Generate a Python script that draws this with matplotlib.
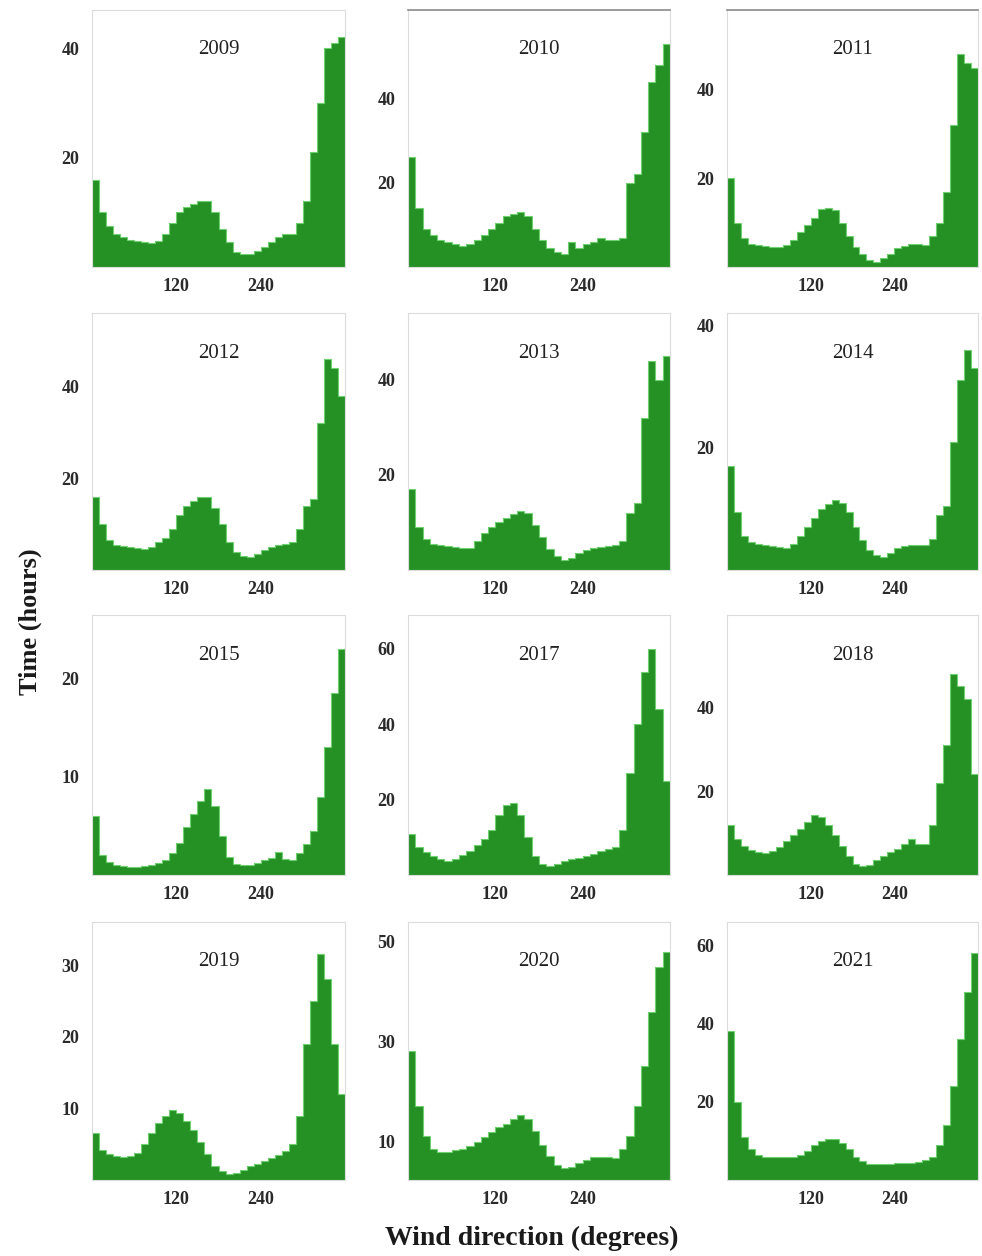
import matplotlib
matplotlib.use('Agg')
import matplotlib.pyplot as plt
import numpy as np

# wind direction histograms, 10 degree bins (hours per bin)
bin_edges = np.arange(0, 361, 10)
bin_centers = bin_edges[:-1] + 5

years = ['2009', '2010', '2011', '2012', '2013', '2014',
         '2015', '2017', '2018', '2019', '2020', '2021']

h2009 = [16, 10, 7.5, 6, 5.5, 5, 4.8, 4.5, 4.3, 4.8, 6, 8, 10, 11, 11.5, 12, 12, 10,
         7, 4.5, 2.8, 2.4, 2.4, 3, 3.6, 4.5, 5.5, 6, 6, 8, 12, 21, 30, 40, 41, 42]
h2010 = [26, 14, 9, 7.5, 6.5, 6, 5.5, 5, 5.5, 6.5, 7.5, 9, 10.5, 12, 12.5, 13, 12, 9,
         6.5, 4.5, 3.5, 3, 6, 4.5, 5.5, 6, 7, 6.5, 6.5, 7, 20, 22, 32, 44, 48, 53]
h2011 = [20, 10, 6.5, 5.2, 4.9, 4.7, 4.5, 4.6, 4.9, 6, 7.8, 9.5, 11, 13.2, 13.4, 12.8, 10, 7,
         4.6, 3, 1.6, 1.1, 2, 3, 4.2, 4.8, 5.3, 5.2, 4.9, 7, 10, 17, 32, 48, 46, 45]
h2012 = [16, 10, 6.5, 5.5, 5.2, 5, 4.8, 4.6, 5, 6, 7, 9, 12, 14, 15, 16, 16, 13.5,
         10, 6, 4, 3, 2.9, 3.5, 4.3, 5, 5.5, 5.7, 6, 9, 14, 15.5, 32, 46, 44, 38]
h2013 = [17, 9, 6.5, 5.5, 5.2, 5, 4.9, 4.7, 4.6, 6, 7.7, 9, 10, 11, 11.8, 12.5, 12, 9.5,
         7, 4.5, 3, 2.1, 2.5, 3.5, 4.2, 4.6, 4.9, 5, 5.3, 6, 12, 14, 32, 44, 40, 45]
h2014 = [17, 9.5, 5.5, 4.6, 4.3, 4.1, 3.9, 3.7, 3.6, 4.2, 5.5, 7, 8.5, 9.9, 10.8, 11.5, 11, 9.5,
         7, 4.9, 3.2, 2.4, 2.2, 2.8, 3.6, 4, 4.1, 4.1, 4.1, 5, 9, 10.5, 21, 31, 36, 33]
h2015 = [6, 2, 1.3, 1, 0.9, 0.85, 0.85, 0.9, 1, 1.2, 1.5, 2.2, 3.3, 4.9, 6.2, 7.5, 8.8, 7,
         4, 1.8, 1.1, 1, 1, 1.2, 1.5, 1.7, 2.3, 1.6, 1.5, 2.2, 3.2, 4.5, 8, 13, 18.5, 23]
h2017 = [11, 7.5, 6, 5, 4.3, 3.8, 4.2, 5.3, 6.5, 8, 9.5, 12, 16, 18.5, 19, 16, 10, 5,
         2.8, 2.3, 2.8, 3.6, 4.2, 4.6, 5, 5.5, 6.3, 7, 7.5, 12, 27, 40, 54, 60, 44, 25]
h2018 = [12, 8.5, 6.8, 6, 5.5, 5.2, 5.8, 6.7, 8, 9.5, 11, 12.7, 14.2, 13.8, 12, 9.5, 6.8, 4.5,
         2.6, 2.1, 2.5, 3.5, 4.5, 5.5, 6.3, 7.5, 8.7, 7.5, 7.5, 12, 22, 31, 48, 45, 42, 24]
h2019 = [6.5, 4.2, 3.6, 3.3, 3.2, 3.3, 3.8, 5, 6.5, 8, 9, 9.7, 9.3, 8.3, 7, 5.3, 3.6, 2,
         1.2, 0.9, 1, 1.4, 1.9, 2.3, 2.7, 3.1, 3.5, 4, 5, 9, 19, 25, 31.5, 28, 19, 12]
h2020 = [28, 17, 11, 8.5, 7.9, 7.9, 8.2, 8.5, 9, 9.8, 10.8, 11.8, 12.8, 13.4, 14.5, 15.3, 14.5, 12,
         9.3, 7, 5.2, 4.6, 4.8, 5.6, 6.3, 6.8, 6.9, 6.8, 6.6, 8.5, 11, 17, 25, 36, 45, 48]
h2021 = [38, 20, 11, 8, 6.5, 6, 5.8, 5.8, 5.8, 6, 6.5, 7.5, 9, 10, 10.5, 10.5, 9.5, 8,
         6, 4.8, 4.2, 4, 4, 4.2, 4.3, 4.3, 4.3, 4.5, 5, 6, 9, 14, 24, 36, 48, 58]

hours = [h2009, h2010, h2011, h2012, h2013, h2014,
         h2015, h2017, h2018, h2019, h2020, h2021]

y_ticks = [[20, 40], [20, 40], [20, 40], [20, 40], [20, 40], [20, 40],
           [10, 20], [20, 40, 60], [20, 40], [10, 20, 30], [10, 30, 50], [20, 40, 60]]
y_lims = [(0, 47), (0, 61), (0, 58), (0, 56), (0, 54), (0, 42),
          (0, 26.5), (0, 69), (0, 62), (0, 36), (2.2, 54), (0, 66)]
x_ticks = [120, 240]

W, H = 982, 1256
fig = plt.figure(figsize=(W / 100, H / 100), dpi=100)

col_x = [(92, 345), (408, 670), (727, 978)]
row_y = [(10, 267), (313, 570), (615, 875), (922, 1180)]

green = '#259125'
serif = ['Liberation Serif', 'DejaVu Serif']

for i, (year, vals) in enumerate(zip(years, hours)):
    r, c = divmod(i, 3)
    x0, x1 = col_x[c]
    y0, y1 = row_y[r]
    ax = fig.add_axes([x0 / W, 1 - y1 / H, (x1 - x0) / W, (y1 - y0) / H])
    ax.bar(bin_centers, vals, width=10, color=green, linewidth=0)
    ax.stairs(vals, bin_edges, color='#6fd06f', linewidth=0.8)
    ax.set_xlim(0, 360)
    ax.set_ylim(*y_lims[i])
    ax.set_xticks(x_ticks)
    ax.set_yticks(y_ticks[i])
    ax.tick_params(axis='y', length=0, pad=9, labelsize=13, labelcolor='#2a2a2a')
    ax.tick_params(axis='x', length=0, pad=8, labelsize=13, labelcolor='#2a2a2a')
    for lab in ax.get_xticklabels() + ax.get_yticklabels():
        lab.set_family(serif)
        lab.set_fontweight('bold')
    for name, sp in ax.spines.items():
        sp.set_color('#dcdcdc')
        sp.set_linewidth(0.8)
    if r == 0 and c > 0:
        ax.spines['top'].set_color('#8a8a8a')
        ax.spines['top'].set_linewidth(1.2)
    ax.text(0.5, 1 - 40 / (y1 - y0), year, transform=ax.transAxes,
            ha='center', va='center', fontsize=15, family=serif, color='#222222')

fig.text(30 / W, 1 - 622 / H, 'Time (hours)', rotation=90, ha='center', va='center',
         fontsize=19, fontweight='bold', family=serif, color='#1a1a1a')
fig.text(532 / W, 1 - 1238 / H, 'Wind direction (degrees)', ha='center', va='center',
         fontsize=20, fontweight='bold', family=serif, color='#1a1a1a')

fig.savefig('out.png', dpi=100)
